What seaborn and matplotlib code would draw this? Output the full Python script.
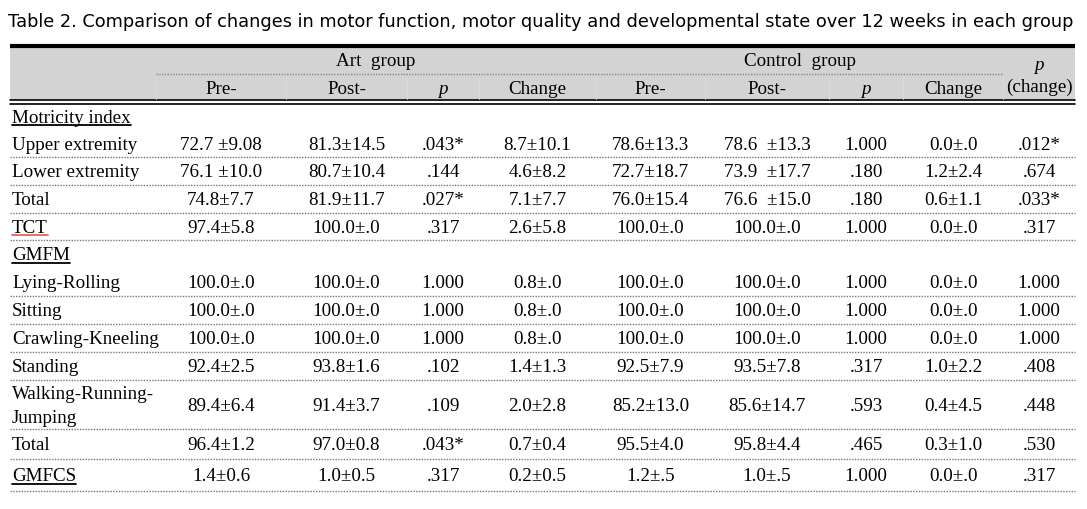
import numpy as np
import matplotlib
matplotlib.use("Agg")
import matplotlib.pyplot as plt
import seaborn as sns

sns.set_style("white")
plt.rcParams['font.family'] = ['Liberation Serif', 'DejaVu Serif']
plt.rcParams['text.color'] = 'black'

title = "Table 2. Comparison of changes in motor function, motor quality and developmental state over 12 weeks in each group"

row_labels = ["Motricity index", "Upper extremity", "Lower extremity", "Total", "TCT", "GMFM",
              "Lying-Rolling", "Sitting", "Crawling-Kneeling", "Standing",
              "Walking-Running-\nJumping", "Total", "GMFCS"]

art_pre = ["", "72.7 \u00b19.08", "76.1 \u00b110.0", "74.8\u00b17.7", "97.4\u00b15.8", "",
           "100.0\u00b1.0", "100.0\u00b1.0", "100.0\u00b1.0", "92.4\u00b12.5", "89.4\u00b16.4", "96.4\u00b11.2", "1.4\u00b10.6"]
art_post = ["", "81.3\u00b114.5", "80.7\u00b110.4", "81.9\u00b111.7", "100.0\u00b1.0", "",
            "100.0\u00b1.0", "100.0\u00b1.0", "100.0\u00b1.0", "93.8\u00b11.6", "91.4\u00b13.7", "97.0\u00b10.8", "1.0\u00b10.5"]
art_p = ["", ".043*", ".144", ".027*", ".317", "", "1.000", "1.000", "1.000", ".102", ".109", ".043*", ".317"]
art_change = ["", "8.7\u00b110.1", "4.6\u00b18.2", "7.1\u00b17.7", "2.6\u00b15.8", "",
              "0.8\u00b1.0", "0.8\u00b1.0", "0.8\u00b1.0", "1.4\u00b11.3", "2.0\u00b12.8", "0.7\u00b10.4", "0.2\u00b10.5"]
ctl_pre = ["", "78.6\u00b113.3", "72.7\u00b118.7", "76.0\u00b115.4", "100.0\u00b1.0", "",
           "100.0\u00b1.0", "100.0\u00b1.0", "100.0\u00b1.0", "92.5\u00b17.9", "85.2\u00b113.0", "95.5\u00b14.0", "1.2\u00b1.5"]
ctl_post = ["", "78.6  \u00b113.3", "73.9  \u00b117.7", "76.6  \u00b115.0", "100.0\u00b1.0", "",
            "100.0\u00b1.0", "100.0\u00b1.0", "100.0\u00b1.0", "93.5\u00b17.8", "85.6\u00b114.7", "95.8\u00b14.4", "1.0\u00b1.5"]
ctl_p = ["", "1.000", ".180", ".180", "1.000", "", "1.000", "1.000", "1.000", ".317", ".593", ".465", "1.000"]
ctl_change = ["", "0.0\u00b1.0", "1.2\u00b12.4", "0.6\u00b11.1", "0.0\u00b1.0", "",
              "0.0\u00b1.0", "0.0\u00b1.0", "0.0\u00b1.0", "1.0\u00b12.2", "0.4\u00b14.5", "0.3\u00b11.0", "0.0\u00b1.0"]
p_change = ["", ".012*", ".674", ".033*", ".317", "", "1.000", "1.000", "1.000", ".408", ".448", ".530", ".317"]

sub_headers = ["Pre-", "Post-", "p", "Change", "Pre-", "Post-", "p", "Change"]
group_headers = ["Art  group", "Control  group"]
underlined = {"Motricity index": "black", "TCT": "#e8625c", "GMFM": "black", "GMFCS": "black"}
no_rule_after = ["Motricity index", "GMFM"]

# layout (pixels)
col_edges = [10, 156, 286, 407, 479, 596, 705, 829, 903, 1003, 1075]
row_heights = [27, 27, 28, 28, 27, 28, 28, 28, 28, 28, 49, 30, 32]
body_top = 104
fs = 13.7

fig = plt.figure(figsize=(10.87, 5.10), dpi=100)
ax = fig.add_axes([0, 0, 1, 1])
ax.set_xlim(0, 1087)
ax.set_ylim(510, 0)
ax.axis('off')

ax.text(8, 22, title, fontsize=12.8, family=['DejaVu Sans'], va='center', ha='left', color='black')

# header band
left, right = col_edges[0], col_edges[-1]
ax.fill_between([left, right], 48, 101, color='#d3d3d3', lw=0)
ax.plot([left, right], [47, 47], color='black', lw=3, solid_capstyle='butt')
ax.plot([left, right], [101, 101], color='black', lw=1.2)
ax.plot([left, right], [104.5, 104.5], color='black', lw=1.2)
ax.plot([col_edges[1], col_edges[9]], [75, 75], color='#888888', lw=1, ls=(0, (1, 1)))
for x in col_edges[1:-1]:
    ax.plot([x, x], [78, 100], color='#dcdcdc', lw=0.6)

centers = [(a + b) / 2 for a, b in zip(col_edges[:-1], col_edges[1:])]
ax.text((col_edges[1] + col_edges[5]) / 2, 61, group_headers[0], fontsize=fs, ha='center', va='center')
ax.text((col_edges[5] + col_edges[9]) / 2, 61, group_headers[1], fontsize=fs, ha='center', va='center')
for h, cx in zip(sub_headers, centers[1:9]):
    ax.text(cx, 89, h, fontsize=fs, ha='center', va='center', style='italic' if h == 'p' else 'normal')
ax.text(centers[9], 66, "p", fontsize=fs, ha='center', va='center', style='italic')
ax.text(centers[9], 87, "(change)", fontsize=fs, ha='center', va='center')

columns = [art_pre, art_post, art_p, art_change, ctl_pre, ctl_post, ctl_p, ctl_change, p_change]
y0 = body_top
label_texts = []
for i, lab in enumerate(row_labels):
    h = row_heights[i]
    cy = y0 + h / 2 + 1
    t = ax.text(12, cy, lab, fontsize=fs, ha='left', va='center', linespacing=1.55)
    label_texts.append((lab, t))
    for col, cx in zip(columns, centers[1:]):
        ax.text(cx, cy, col[i], fontsize=fs, ha='center', va='center')
    y0 += h
    if lab not in no_rule_after:
        ax.plot([left, right], [y0, y0], color='#777777', lw=1, ls=(0, (1, 1)))

fig.canvas.draw()
inv = ax.transData.inverted()
for lab, t in label_texts:
    if lab in underlined:
        bb = t.get_window_extent()
        (x0, yb), (x1, yt) = inv.transform([[bb.x0, bb.y0], [bb.x1, bb.y1]])
        ax.plot([x0, x1], [yb - 1, yb - 1], color=underlined[lab], lw=1.3)

fig.savefig("out.png", dpi=100)
